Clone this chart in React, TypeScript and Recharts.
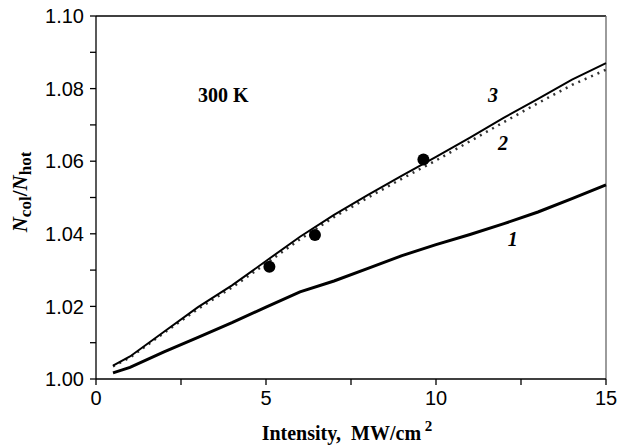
import React from 'react'
import { ComposedChart, Line, Scatter, XAxis, YAxis, ReferenceLine, ReferenceDot } from 'recharts'

// intensity values (MW/cm^2)
const intensity = [0.5, 1, 2, 3, 4, 5, 6, 7, 8, 9, 10, 11, 12, 13, 14, 15]
const curve1 = [1.0017, 1.0032, 1.0075, 1.0115, 1.0155, 1.0198, 1.024, 1.027, 1.0305, 1.034, 1.037, 1.0398, 1.0428, 1.046, 1.0497, 1.0535]
const curve2 = [1.0035, 1.0059, 1.0127, 1.0193, 1.0252, 1.0318, 1.0385, 1.0446, 1.05, 1.0552, 1.0602, 1.0655, 1.0708, 1.076, 1.081, 1.0852]
const curve3 = [1.0037, 1.0062, 1.013, 1.0198, 1.0258, 1.0325, 1.0392, 1.0452, 1.0507, 1.056, 1.0612, 1.0665, 1.072, 1.0772, 1.0825, 1.087]

const expX = [5.1, 6.44, 9.63]
const expY = [1.0309, 1.0397, 1.0605]

const xTicks = [0, 2.5, 5, 7.5, 10, 12.5, 15]
const yTicks = [1.0, 1.01, 1.02, 1.03, 1.04, 1.05, 1.06, 1.07, 1.08, 1.09, 1.1]

const lineLabels = [
  { text: '3', x: 11.68, y: 1.0783 },
  { text: '2', x: 11.97, y: 1.0651 },
  { text: '1', x: 12.26, y: 1.0386 },
]

const rows = intensity.map((x, i) => ({ x, s1: curve1[i], s2: curve2[i], s3: curve3[i] }))
const points = expX.map((x, i) => ({ x, y: expY[i] }))

const tickFont = { fontFamily: '"Liberation Sans", Arial, sans-serif', fontSize: 20, fill: '#000' }
const serif = '"Liberation Serif", "Times New Roman", serif'

function YLabel() {
  const cx = 27
  const cy = 192
  return (
    <text x={cx} y={cy} transform={`rotate(-90, ${cx}, ${cy})`} textAnchor="middle" fontFamily={serif} fontWeight="bold" fontSize={21} fill="#000">
      <tspan fontStyle="italic">N</tspan>
      <tspan fontSize={17} dy={4}>col</tspan>
      <tspan dy={-4}>/</tspan>
      <tspan fontStyle="italic">N</tspan>
      <tspan fontSize={17} dy={4}>hot</tspan>
    </text>
  )
}

function XLabel() {
  return (
    <text x={347} y={440} textAnchor="middle" fontFamily={serif} fontWeight="bold" fontSize={20} fill="#000">
      Intensity,&#160; MW/cm
      <tspan fontSize={15} dy={-9}>&#160;2</tspan>
    </text>
  )
}

export default function App() {
  return (
    <div style={{ position: 'absolute', left: 0, top: 0 }}>
      <ComposedChart width={618} height={448} data={rows} margin={{ top: 16, right: 12, bottom: 39, left: 36 }}>
        <XAxis
          dataKey="x"
          type="number"
          domain={[0, 15]}
          ticks={xTicks}
          tickFormatter={(v: number) => (v % 5 === 0 ? String(v) : '')}
          tick={tickFont}
          tickSize={6}
          tickMargin={6}
          height={30}
          stroke="#000"
          strokeWidth={1.3}
        />
        <YAxis
          type="number"
          domain={[1.0, 1.1]}
          ticks={yTicks}
          tickFormatter={(v: number) => (Math.round(v * 100) % 2 === 0 ? v.toFixed(2) : '')}
          tick={tickFont}
          tickSize={6}
          tickMargin={6}
          width={60}
          stroke="#000"
          strokeWidth={1.3}
          allowDataOverflow
        />
        <ReferenceLine y={1.1} stroke="#000" strokeWidth={1.3} />
        <ReferenceLine x={15} stroke="#666" strokeWidth={1.3} />
        <Line dataKey="s1" stroke="#000" strokeWidth={3} dot={false} isAnimationActive={false} />
        <Line dataKey="s2" stroke="#333" strokeWidth={2.5} strokeDasharray="2 5" dot={false} isAnimationActive={false} />
        <Line dataKey="s3" stroke="#000" strokeWidth={2} dot={false} isAnimationActive={false} />
        <Scatter data={points} dataKey="y" fill="#000" shape={(p: any) => <circle cx={p.cx} cy={p.cy} r={6} fill="#000" />} isAnimationActive={false} />
        {lineLabels.map((l) => (
          <ReferenceDot
            key={l.text}
            x={l.x}
            y={l.y}
            r={0}
            stroke="none"
            label={{ value: l.text, position: 'center', fontFamily: serif, fontStyle: 'italic', fontWeight: 'bold', fontSize: 20, fill: '#000' }}
          />
        ))}
        <ReferenceDot
          x={3.74}
          y={1.0783}
          r={0}
          stroke="none"
          label={{ value: '300 K', position: 'center', fontFamily: serif, fontWeight: 'bold', fontSize: 20, fill: '#000' }}
        />
        <YLabel />
        <XLabel />
      </ComposedChart>
    </div>
  )
}
